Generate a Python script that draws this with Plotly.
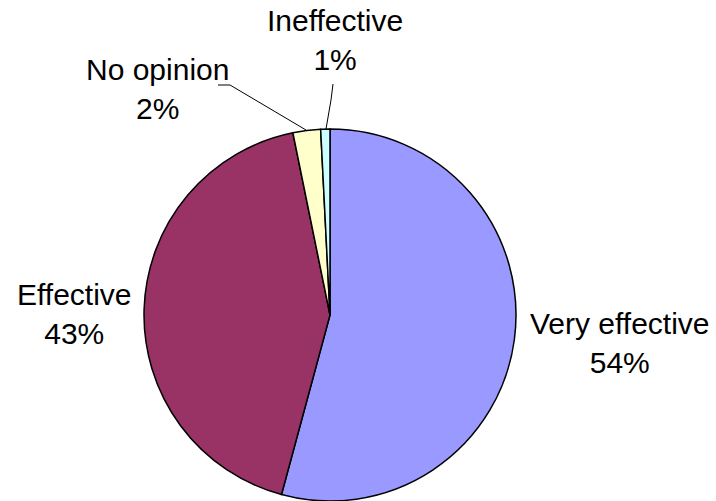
import plotly.graph_objects as go

labels = ["Very effective", "Effective", "No opinion", "Ineffective"]
values = [54.2, 42.6, 2.4, 0.8]
colors = ["#9999FF", "#993366", "#FFFFCC", "#CCFFFF"]

W, H = 716, 501
# label centre positions in pixels (style, not data)
label_pos = [(620, 343), (74, 314), (157, 89), (335, 40)]

fig = go.Figure(go.Pie(
    labels=labels, values=values, sort=False, direction="clockwise", rotation=0,
    marker=dict(colors=colors, line=dict(color="black", width=1.5)),
    textinfo="none", hoverinfo="label+percent", showlegend=False,
    domain=dict(x=[(330 - 187) / W, (330 + 187) / W], y=[0, 0.7425]),
))

total = sum(values)
for lab, v, (px, py) in zip(labels, values, label_pos):
    fig.add_annotation(
        x=px / W, y=1 - py / H, xref="paper", yref="paper",
        text=f"{lab}<br>{round(v / total * 100)}%", showarrow=False,
        font=dict(family="Liberation Sans, Arial, sans-serif", size=30, color="black"),
        align="center", xanchor="center", yanchor="middle",
    )

def P(px, py):
    return px / W, 1 - py / H

leaders = [
    [(218, 85), (230, 85), (306, 130)],
    [(333, 84), (331, 100), (326, 129)],
]
for pts in leaders:
    path = "M " + " L ".join(f"{P(x, y)[0]},{P(x, y)[1]}" for x, y in pts)
    fig.add_shape(type="path", path=path, xref="paper", yref="paper",
                  line=dict(color="black", width=1))

fig.update_layout(width=W, height=H, margin=dict(l=0, r=0, t=0, b=0),
                  paper_bgcolor="white", plot_bgcolor="white")
fig.write_html("out.html", config={"displayModeBar": False},
               post_script="document.body.style.margin='0';document.body.style.overflow='hidden';")
